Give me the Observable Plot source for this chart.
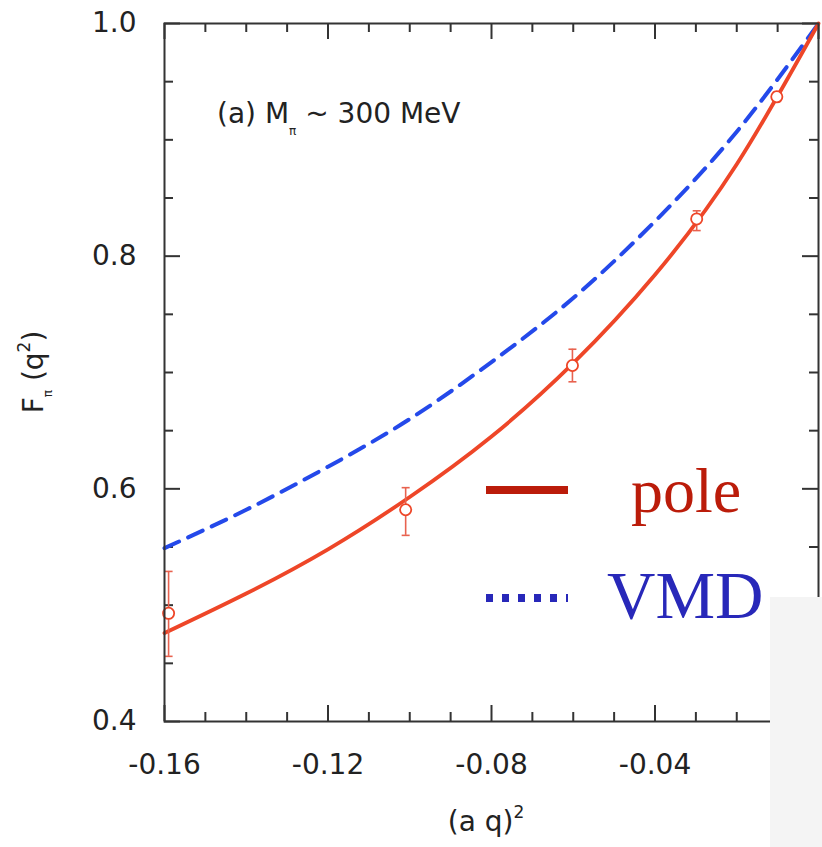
<!DOCTYPE html>
<html><head><meta charset="utf-8">
<script src="https://cdn.jsdelivr.net/npm/d3@7"></script>
<script src="https://cdn.jsdelivr.net/npm/@observablehq/plot@0.6"></script>
<style>
html,body{margin:0;padding:0;background:#fff;}
#wrap{position:relative;width:822px;height:847px;overflow:hidden;background:#fff;}
#wrap svg{display:block;}
</style></head><body><div id="wrap"></div>
<script>
// ---- data ----
const xTickLabels = [-0.16, -0.12, -0.08, -0.04];
const xMajorTicks = [-0.16, -0.12, -0.08, -0.04, 0];
const xMinorTicks = [-0.15, -0.14, -0.13, -0.11, -0.10, -0.09, -0.07, -0.06, -0.05, -0.03, -0.02, -0.01];
const yTickLabels = [0.4, 0.6, 0.8, 1.0];
const yMinorTicks = [0.45, 0.5, 0.55, 0.65, 0.7, 0.75, 0.85, 0.9, 0.95];

const pointX  = [-0.159, -0.101, -0.0602, -0.0298, -0.0102];
const pointY  = [0.493, 0.582, 0.706, 0.832, 0.937];
const pointLo = [0.456, 0.560, 0.692, 0.822, 0.933];
const pointHi = [0.529, 0.601, 0.720, 0.839, 0.941];

const curveX = [-0.16, -0.14, -0.12, -0.10, -0.08, -0.06, -0.04, -0.02, 0];
const poleY  = [0.476, 0.510, 0.548, 0.593, 0.645, 0.708, 0.784, 0.879, 1.0];
const vmdY   = [0.549, 0.582, 0.619, 0.660, 0.709, 0.764, 0.830, 0.907, 1.0];

const seriesNames = ["pole", "VMD"];

// ---- tables ----
const points = pointX.map((x, i) => ({x, y: pointY[i], lo: pointLo[i], hi: pointHi[i]}));
const pole = curveX.map((x, i) => ({x, y: poleY[i]}));
const vmd = curveX.map((x, i) => ({x, y: vmdY[i]}));

const W = 822, H = 847, mL = 164, mR = 4, mT = 23, mB = 126;
const iW = W - mL - mR, iH = H - mT - mB;
const majLen = 16, minLen = 9;
const axisColor = "#333";
const red = "#ee4628", redErr = "#e8624f", blue = "#2449ea";
const capSymbol = {draw(ctx) { ctx.moveTo(-4, 0); ctx.lineTo(4, 0); }};

const plot = Plot.plot({
  width: W, height: H,
  marginLeft: mL, marginRight: mR, marginTop: mT, marginBottom: mB,
  x: {domain: [-0.16, 0]},
  y: {domain: [0.4, 1.0]},
  style: {fontFamily: "DejaVu Sans", fontSize: "28px", color: "#222", background: "white"},
  marks: [
    // inward ticks on all four sides
    Plot.ruleX(xMajorTicks, {x: d => d, insetTop: iH - majLen, stroke: axisColor, strokeWidth: 2}),
    Plot.ruleX(xMinorTicks, {x: d => d, insetTop: iH - minLen, stroke: axisColor, strokeWidth: 2}),
    Plot.ruleX(xMajorTicks, {x: d => d, insetBottom: iH - majLen, stroke: axisColor, strokeWidth: 2}),
    Plot.ruleX(xMinorTicks, {x: d => d, insetBottom: iH - minLen, stroke: axisColor, strokeWidth: 2}),
    Plot.ruleY(yTickLabels, {y: d => d, insetRight: iW - majLen, stroke: axisColor, strokeWidth: 2}),
    Plot.ruleY(yMinorTicks, {y: d => d, insetRight: iW - minLen, stroke: axisColor, strokeWidth: 2}),
    Plot.ruleY(yTickLabels, {y: d => d, insetLeft: iW - majLen, stroke: axisColor, strokeWidth: 2}),
    Plot.ruleY(yMinorTicks, {y: d => d, insetLeft: iW - minLen, stroke: axisColor, strokeWidth: 2}),
    Plot.axisX({ticks: xTickLabels, tickSize: 0, tickPadding: 33, tickFormat: d => d.toFixed(2), label: null}),
    Plot.axisY({ticks: yTickLabels, tickSize: 0, tickPadding: 28, tickFormat: d => d.toFixed(1), label: null}),
    // curves
    Plot.line(vmd, {x: "x", y: "y", curve: "natural", stroke: blue, strokeWidth: 4, strokeDasharray: "16,10"}),
    Plot.line(pole, {x: "x", y: "y", curve: "natural", stroke: red, strokeWidth: 3.8}),
    // error bars
    Plot.ruleX(points, {x: "x", y1: "lo", y2: "hi", stroke: redErr, strokeWidth: 1.6}),
    Plot.dot(points, {x: "x", y: "lo", symbol: capSymbol, r: 4, fill: "none", stroke: redErr, strokeWidth: 1.6}),
    Plot.dot(points, {x: "x", y: "hi", symbol: capSymbol, r: 4, fill: "none", stroke: redErr, strokeWidth: 1.6}),
    Plot.dot(points, {x: "x", y: "y", r: 5.6, fill: "white", stroke: red, strokeWidth: 1.8}),
    Plot.frame({stroke: axisColor, strokeWidth: 2})
  ]
});

const wrap = document.getElementById("wrap");
wrap.appendChild(plot);

const svg = d3.select(plot);
// annotation
const ann = svg.append("text").attr("x", 217).attr("y", 123).attr("text-anchor", "start")
  .attr("font-family", "DejaVu Sans").attr("font-size", 28).attr("fill", "#222");
ann.append("tspan").text("(a) M");
ann.append("tspan").attr("dy", 12).attr("font-size", 12).text("π");
ann.append("tspan").attr("dy", -12).text(" ~ 300 MeV");

// x label
const xl = svg.append("text").attr("x", 486).attr("y", 831).attr("text-anchor", "middle")
  .attr("font-family", "DejaVu Sans").attr("font-size", 28).attr("fill", "#222");
xl.append("tspan").text("(a q)");
xl.append("tspan").attr("dy", -13).attr("font-size", 17).text("2");

// y label
const yl = svg.append("text").attr("transform", "translate(43,372) rotate(-90)").attr("text-anchor", "middle")
  .attr("font-family", "DejaVu Sans").attr("font-size", 28).attr("fill", "#222");
yl.append("tspan").text("F");
yl.append("tspan").attr("dy", 9).attr("font-size", 12).text("π");
yl.append("tspan").attr("dy", -9).text(" (q");
yl.append("tspan").attr("dy", -13).attr("font-size", 17).text("2");
yl.append("tspan").attr("dy", 13).text(")");

// legend
const lg = svg.append("g").attr("text-anchor", "start");
lg.append("line").attr("x1", 486).attr("x2", 568).attr("y1", 490).attr("y2", 490)
  .attr("stroke", "#bb1c0a").attr("stroke-width", 8);
lg.append("text").attr("x", 631).attr("y", 512).attr("font-family", "Liberation Serif")
  .attr("font-size", 64).attr("fill", "#bb1c0a").text(seriesNames[0]);
lg.append("line").attr("x1", 486).attr("x2", 568).attr("y1", 598).attr("y2", 598)
  .attr("stroke", "#2828b9").attr("stroke-width", 8).attr("stroke-dasharray", "7,9");
lg.append("text").attr("x", 607).attr("y", 618).attr("font-family", "Liberation Serif")
  .attr("font-size", 67).attr("fill", "#2828b9").text(seriesNames[1]);

// light grey patch bottom-right
svg.append("rect").attr("x", 770).attr("y", 597).attr("width", 52).attr("height", 250).attr("fill", "#f4f4f4");
</script></body></html>
